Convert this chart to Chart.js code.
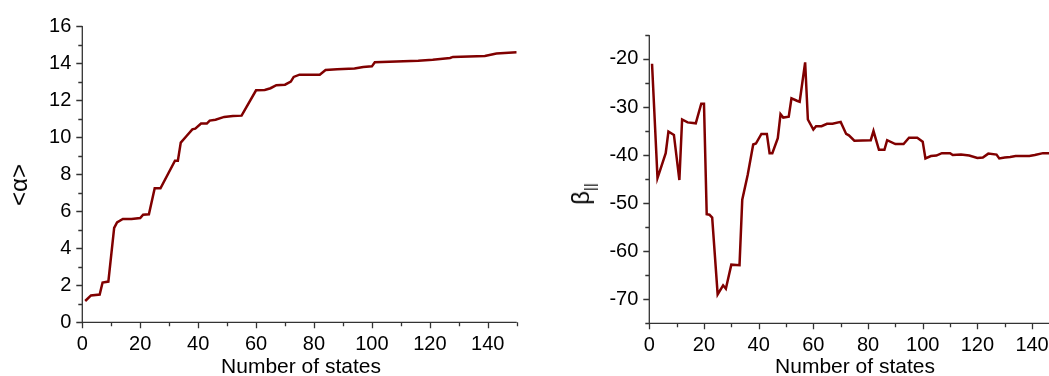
<!DOCTYPE html>
<html>
<head>
<meta charset="utf-8">
<script src="https://cdn.jsdelivr.net/npm/chart.js@4"></script>
<style>
    html, body { margin: 0; padding: 0; background: #fff; overflow: hidden; }
    body { width: 1049px; height: 376px; position: relative; font-family: Arial, "Liberation Sans", sans-serif; color: #000; }
    canvas { position: absolute; top: 0; }
    .xtitle { position: absolute; top: 355px; font-size: 21px; line-height: 21px; white-space: nowrap; transform: translateX(-50%); }
    .ytitle { position: absolute; width: 0; height: 0; }
    .ytitle span { position: absolute; white-space: nowrap; line-height: 1; transform: translate(-50%, -50%) rotate(-90deg); }
    .ytitle sub { font-size: 15px; vertical-align: -6px; }
</style>
</head>
<body>
<canvas id="alphaChart" width="530" height="376" style="left:0"></canvas>
<canvas id="betaChart" width="520" height="376" style="left:560px"></canvas>
<div class="xtitle" style="left:301px">Number of states</div>
<div class="xtitle" style="left:855px">Number of states</div>
<div class="ytitle" style="left:19px; top:185px"><span style="font-size:24px">&lt;&alpha;&gt;</span></div>
<div class="ytitle" style="left:583px; top:194px"><span style="font-size:24px">&beta;<sub>||</sub></span></div>
<script>
// <alpha> vs number of states (left panel)
const alphaStates = [1, 3, 6, 7, 9, 11, 12, 14, 17, 20, 21, 23, 25, 27, 32, 33, 34, 36, 38, 39,
    41, 43, 44, 46, 49, 52, 55, 60, 63, 65, 67, 70, 72, 73, 75, 82, 84, 88, 94, 97,
    100, 101, 116, 121, 127, 128, 139, 143, 150];
const alphaValues = [1.15, 1.45, 1.5, 2.15, 2.2, 5.1, 5.4, 5.58, 5.58, 5.63, 5.81, 5.83, 7.24, 7.24, 8.73, 8.73, 9.7, 10.06, 10.42, 10.46,
    10.73, 10.73, 10.89, 10.94, 11.09, 11.14, 11.16, 12.53, 12.55, 12.64, 12.8, 12.83, 13.0, 13.25, 13.37, 13.37, 13.62, 13.66, 13.7, 13.79,
    13.82, 14.04, 14.13, 14.18, 14.27, 14.33, 14.38, 14.52, 14.58];

// beta_|| vs number of states (right panel)
const betaStates = [1, 3, 4, 6, 7, 9, 11, 12, 14, 17, 19, 20, 21, 22, 23, 25, 27, 28, 30, 33,
    34, 36, 38, 39, 41, 43, 44, 45, 47, 48, 49, 51, 52, 54, 55, 57, 58, 60, 61, 63,
    65, 67, 70, 72, 73, 75, 81, 82, 84, 86, 87, 90, 93, 95, 98, 100, 101, 103, 105, 107,
    110, 111, 114, 117, 120, 122, 124, 127, 128, 130, 132, 134, 139, 141, 144, 146, 150];
const betaValues = [-21, -44.8, -43.1, -39.6, -35.1, -35.8, -45.2, -32.6, -33.2, -33.4, -29.3, -29.3, -52.3, -52.4, -53, -69, -67.1, -67.8, -62.8, -62.9,
    -49.3, -44.1, -37.8, -37.6, -35.6, -35.6, -39.6, -39.6, -36.5, -31.5, -32.2, -32, -28.2, -28.7, -28.9, -20.7, -32.6, -34.7, -34, -34,
    -33.5, -33.5, -33.1, -35.6, -35.9, -37, -36.9, -35, -38.9, -38.9, -36.9, -37.7, -37.7, -36.4, -36.4, -37.2, -40.7, -40.2, -40.1, -39.6,
    -39.6, -40, -39.9, -40.1, -40.6, -40.5, -39.7, -39.9, -40.7, -40.5, -40.4, -40.2, -40.2, -40, -39.6, -39.6, -39.5];

const xTickLabels = [0, 20, 40, 60, 80, 100, 120, 140];
const alphaTickLabels = [0, 2, 4, 6, 8, 10, 12, 14, 16];
const betaTickLabels = [-70, -60, -50, -40, -30, -20];

const lineColor = '#800000';
const tickFont = { family: 'Arial, "Liberation Sans", sans-serif', size: 20 };

// axis lines plus major/minor ticks pointing outwards, Origin style
const axisTicks = {
    id: 'axisTicks',
    afterDraw(chart, args, opts) {
        const { ctx, chartArea: a, scales: { x, y } } = chart;
        ctx.save();
        ctx.strokeStyle = '#333';
        ctx.lineWidth = 1.3;
        ctx.beginPath();
        ctx.moveTo(a.left, a.top);
        ctx.lineTo(a.left, a.bottom);
        ctx.lineTo(a.right, a.bottom);
        for (let v = x.min; v <= x.max; v += opts.xMinor) {
            const px = Math.round(x.getPixelForValue(v)) + 0.5;
            const len = v % opts.xMajor === 0 ? 6 : 4;
            ctx.moveTo(px, a.bottom);
            ctx.lineTo(px, a.bottom + len);
        }
        for (let v = y.min; v <= y.max; v += opts.yMinor) {
            const py = Math.round(y.getPixelForValue(v)) + 0.5;
            const len = v % opts.yMajor === 0 ? 6 : 4;
            ctx.moveTo(a.left, py);
            ctx.lineTo(a.left - len, py);
        }
        ctx.stroke();
        ctx.restore();
    }
};

function makeChart(canvasId, xs, ys, yMin, yMax, yLabels, yWidth, pad, tickOpts) {
    const points = xs.map((x, i) => ({ x: x, y: ys[i] }));
    return new Chart(document.getElementById(canvasId), {
        type: 'scatter',
        data: {
            datasets: [{
                data: points,
                showLine: true,
                borderColor: lineColor,
                borderWidth: 2.5,
                pointRadius: 0,
                tension: 0
            }]
        },
        options: {
            responsive: false,
            animation: false,
            events: [],
            layout: { padding: pad },
            plugins: { legend: { display: false }, tooltip: { enabled: false }, axisTicks: tickOpts },
            scales: {
                x: {
                    type: 'linear', min: 0, max: 150,
                    grid: { display: false },
                    border: { display: false },
                    afterBuildTicks: s => { s.ticks = xTickLabels.map(v => ({ value: v })); },
                    afterFit: s => { s.height = 376 - pad.top - (pad.plotHeight); },
                    ticks: { color: '#000', font: tickFont, padding: 2, maxRotation: 0 }
                },
                y: {
                    type: 'linear', min: yMin, max: yMax,
                    grid: { display: false },
                    border: { display: false },
                    afterBuildTicks: s => { s.ticks = yLabels.map(v => ({ value: v })); },
                    afterFit: s => { s.width = yWidth; },
                    ticks: { color: '#000', font: tickFont, padding: 3 }
                }
            }
        },
        plugins: [axisTicks]
    });
}

makeChart('alphaChart', alphaStates, alphaValues, 0, 16, alphaTickLabels, 82.3,
    { top: 26, right: 13.3, left: 0, bottom: 0, plotHeight: 296.3 },
    { xMajor: 20, xMinor: 10, yMajor: 2, yMinor: 1 });

makeChart('betaChart', betaStates, betaValues, -75, -15, betaTickLabels, 89.3,
    { top: 34.9, right: 20.6, left: 0, bottom: 0, plotHeight: 288.4 },
    { xMajor: 20, xMinor: 10, yMajor: 10, yMinor: 5 });
</script>
</body>
</html>
